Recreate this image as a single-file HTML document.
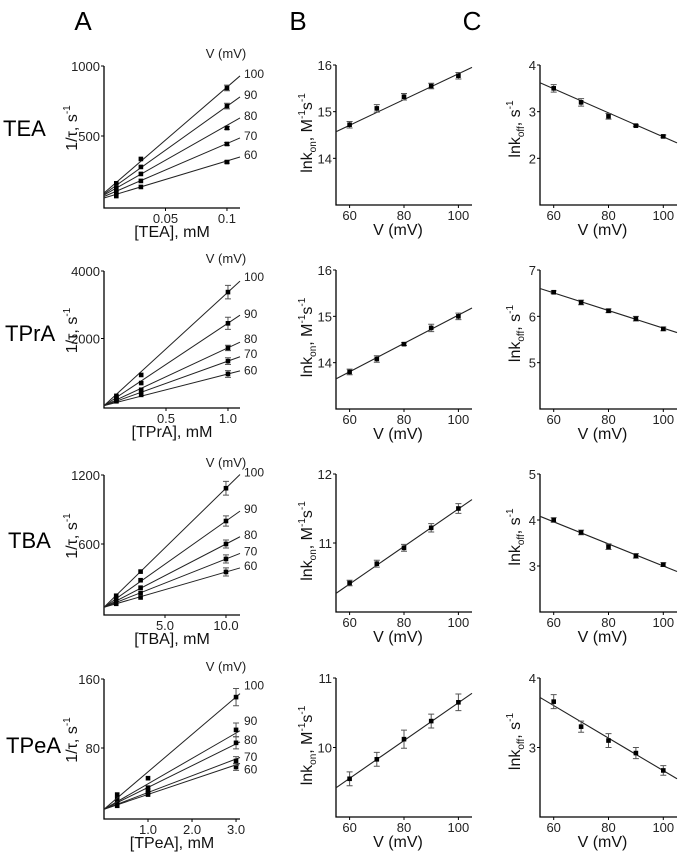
<!DOCTYPE html>
<html><head><meta charset="utf-8">
<style>
html,body{margin:0;padding:0;background:#fff;}
svg{display:block;font-family:"Liberation Sans",sans-serif;}
</style></head>
<body>
<svg id="fig" width="682" height="853" viewBox="0 0 682 853">
<text x="83" y="30" font-size="26" text-anchor="middle">A</text>
<text x="298" y="30" font-size="26" text-anchor="middle">B</text>
<text x="472" y="30" font-size="26" text-anchor="middle">C</text>
<text x="3" y="136" font-size="22">TEA</text>
<text x="5" y="341" font-size="22">TPrA</text>
<text x="8" y="548" font-size="22">TBA</text>
<text x="6" y="753" font-size="22">TPeA</text>
</svg>
<script>
// ---------- data ----------
const voltages = [60, 70, 80, 90, 100];
const fitV = [55, 105];

// Panel A data (rates per voltage 60..100 at each concentration)
const teaConc = [0.01, 0.03, 0.1];
const teaRates = [[71,136,314],[93,179,443],[107,229,557],[129,279,714],[162,336,843]];
const teaErr = [8,10,10,20,20];
const teaFitStart = [57,68,78,85,93];
const teaFitEnd = [350,486,629,779,929];
const teaLabelAt = [350,486,629,779,929];

const tpraConc = [0.1, 0.3, 1.0];
const tpraRates = [[140,330,950],[170,420,1330],[200,480,1720],[250,680,2450],[300,920,3375]];
const tpraErr = [100,100,80,180,200];
const tpraFitStart = [10,10,10,10,10];
const tpraFitEnd = [1040,1460,1890,2690,3700];
const tpraLabelAt = [1000,1480,1930,2670,3760];

const tbaConc = [1, 3, 10];
const tbaRates = [[80,135,357],[90,175,470],[105,220,600],[125,285,800],[150,360,1085]];
const tbaErr = [35,35,35,45,60];
const tbaFitStart = [50,50,50,50,50];
const tbaFitEnd = [392,518,663,886,1204];
const tbaLabelAt = [392,518,663,886,1204];

const tpeaConc = [0.3, 1, 3];
const tpeaRates = [[13,26,58],[15,28,65],[18,31,86],[21,34,101],[26,45,139]];
const tpeaErr = [4,5,7,8,10];
const tpeaFitStart = [9,9,9,9,9];
const tpeaFitEnd = [62,69,87,100,143];
const tpeaLabelAt = [53,67,87,109,150];

// Panel B (ln kon) and C (ln koff)
const teaKon = [14.72,15.07,15.32,15.55,15.77];
const teaKonErr = [0.07,0.08,0.07,0.06,0.07];
const teaKonFit = [14.57,15.95];
const teaKoff = [3.5,3.2,2.9,2.7,2.47];
const teaKoffErr = [0.08,0.08,0.06,0.02,0.03];
const teaKoffFit = [3.62,2.33];

const tpraKon = [13.8,14.08,14.4,14.75,15.0];
const tpraKonErr = [0.06,0.07,0.03,0.08,0.07];
const tpraKonFit = [13.65,15.18];
const tpraKoff = [6.52,6.3,6.12,5.95,5.73];
const tpraKoffErr = [0.03,0.05,0.04,0.05,0.04];
const tpraKoffFit = [6.6,5.65];

const tbaKon = [10.42,10.7,10.93,11.22,11.5];
const tbaKonErr = [0.04,0.05,0.05,0.06,0.07];
const tbaKonFit = [10.27,11.63];
const tbaKoff = [4.0,3.73,3.42,3.22,3.03];
const tbaKoffErr = [0.05,0.05,0.06,0.05,0.04];
const tbaKoffFit = [4.08,2.88];

const tpeaKon = [9.55,9.83,10.12,10.38,10.65];
const tpeaKonErr = [0.1,0.1,0.13,0.1,0.12];
const tpeaKonFit = [9.42,10.78];
const tpeaKoff = [3.66,3.3,3.1,2.92,2.67];
const tpeaKoffErr = [0.1,0.08,0.1,0.08,0.07];
const tpeaKoffFit = [3.72,2.55];

// tick labels
const teaXTicks = ["0.05","0.1"];
const tpraXTicks = ["0.5","1.0"];
const tbaXTicks = ["5.0","10.0"];
const tpeaXTicks = ["1.0","2.0","3.0"];
const teaYTicks = [500,1000];
const tpraYTicks = [2000,4000];
const tbaYTicks = [600,1200];
const tpeaYTicks = [80,160];
const vTicks = [60,80,100];

// ---------- drawing ----------
const NS = "http://www.w3.org/2000/svg";
const svg = document.getElementById("fig");
function mk(tag, attrs, parent){
  const e = document.createElementNS(NS, tag);
  for (const k in attrs) e.setAttribute(k, attrs[k]);
  (parent||svg).appendChild(e);
  return e;
}
function scale(d0,d1,r0,r1){ return v => r0 + (v-d0)/(d1-d0)*(r1-r0); }

function axes(g, x0, x1, y0, y1, sx, sy, xt, yt){
  const ax = mk("path",{d:`M${x0},${y0} V${y1} H${x1}`,fill:"none",stroke:"#000","stroke-width":1.3},g);
  
  
  xt.forEach(t=>{
    const v = parseFloat(t);
    const x = sx(v);
    const tk = mk("line",{x1:x,x2:x,y1:y1,y2:y1+3,stroke:"#000","stroke-width":1},g);
    
    
    const tl = mk("text",{x:x,y:y1+15,"font-size":13,"text-anchor":"middle",fill:"#222"},g);
    tl.textContent = t;
    
    
  });
  yt.forEach(v=>{
    const y = sy(v);
    const tk = mk("line",{x1:x0-3,x2:x0,y1:y,y2:y,stroke:"#000","stroke-width":1},g);
    
    
    const tl = mk("text",{x:x0-4,y:y+5,"font-size":13,"text-anchor":"end",fill:"#222"},g);
    tl.textContent = String(v);
    
    
  });
}
function point(g, x, y, e){
  if (e>0){
    const eb = mk("path",{d:`M${x},${y-e} V${y+e} M${x-3},${y-e} H${x+3} M${x-3},${y+e} H${x+3}`,stroke:"#555","stroke-width":1,fill:"none"},g);
    
    
  }
  const p = mk("rect",{x:x-2.3,y:y-2.3,width:4.6,height:4.6,fill:"#000"},g);
  
  
}
function ytitle(g, cx, cy, parts){
  const t = mk("text",{transform:`translate(${cx},${cy}) rotate(-90)`,"font-size":16,"text-anchor":"middle",fill:"#111"},g);
  
  
  parts.forEach(p=>{
    const s = mk("tspan",{},t);
    s.textContent = p[0];
    if (p[1]==="sub"){ s.setAttribute("font-size",10); s.setAttribute("dy",4); }
    else if (p[1]==="sup"){ s.setAttribute("font-size",10); s.setAttribute("dy",-7); }
    else if (p[1]==="back"){ s.setAttribute("dy",p[2]); }
  });
}

function panelA(name, y0, y1, xmax, ymax, conc, rates, err, fs, fe, labAt, xt, yt, xlabel){
  const g = mk("g",{});
  
  
  const x0=104, x1=240;
  const sx = scale(0,xmax,x0,x1), sy = scale(0,ymax,y1,y0);
  axes(g,x0,x1,y0,y1+2,sx,sy,xt,yt);
  rates.forEach((row,i)=>{
    const ln = mk("line",{x1:sx(0),y1:sy(fs[i]),x2:sx(xmax),y2:sy(fe[i]),stroke:"#222","stroke-width":1},g);
    
    
    row.forEach((v,j)=>{
      const eh = j===row.length-1 ? Math.abs(sy(0)-sy(err[i])) : 0;
      point(g, sx(conc[j]), sy(v), eh);
    });
    const lb = mk("text",{x:x1+4,y:sy(labAt[i])+2,"font-size":12,fill:"#222"},g);
    lb.textContent = String(voltages[i]);
    
    
  });
  const vt = mk("text",{x:226,y:y0-8,"font-size":13,"text-anchor":"middle",fill:"#222"},g);
  vt.textContent = "V (mV)";
  
  
  const xl = mk("text",{x:172,y:y1+31,"font-size":16,"text-anchor":"middle",fill:"#111"},g);
  xl.textContent = xlabel;
  
  
  ytitle(g, 77, (y0+y1)/2-8, [["1/τ, s"],["-1","sup"]]);
}

function panelV(name, col, y0, y1, yd, yt, vals, err, fit){
  const g = mk("g",{});
  
  
  const x0 = col==="kon" ? 336 : 540, x1 = col==="kon" ? 472 : 677;
  const sx = scale(fitV[0],fitV[1],x0,x1), sy = scale(yd[0],yd[1],y1,y0);
  axes(g,x0,x1,y0,y1,sx,sy,vTicks.map(String),yt);
  const ln = mk("line",{x1:sx(fitV[0]),y1:sy(fit[0]),x2:sx(fitV[1]),y2:sy(fit[1]),stroke:"#222","stroke-width":1.1},g);
  
  
  vals.forEach((v,i)=>{
    point(g, sx(voltages[i]), sy(v), Math.abs(sy(0)-sy(err[i])));
  });
  const xl = mk("text",{x:(x0+x1)/2-6,y:y1+30,"font-size":16,"text-anchor":"middle",fill:"#111"},g);
  xl.textContent = "V (mV)";
  
  
  if (col==="kon") ytitle(g, 312, (y0+y1)/2-2, [["lnk"],["on","sub"],[", M","back",-4],["-1","sup"],["s","back",7],["-1","sup"]]);
  else ytitle(g, 520, (y0+y1)/2-6, [["lnk"],["off","sub"],[", s","back",-4],["-1","sup"]]);
}

panelA("tea",66,206,0.1106,1000,teaConc,teaRates,teaErr,teaFitStart,teaFitEnd,teaLabelAt,teaXTicks,teaYTicks,"[TEA], mM");
panelA("tpra",271,406,1.097,4000,tpraConc,tpraRates,tpraErr,tpraFitStart,tpraFitEnd,tpraLabelAt,tpraXTicks,tpraYTicks,"[TPrA], mM");
panelA("tba",475,613,11.15,1200,tbaConc,tbaRates,tbaErr,tbaFitStart,tbaFitEnd,tbaLabelAt,tbaXTicks,tbaYTicks,"[TBA], mM");
panelA("tpea",679,817,3.09,160,tpeaConc,tpeaRates,tpeaErr,tpeaFitStart,tpeaFitEnd,tpeaLabelAt,tpeaXTicks,tpeaYTicks,"[TPeA], mM");

panelV("tea","kon",65,205,[13,16],[14,15,16],teaKon,teaKonErr,teaKonFit);
panelV("tea","koff",65,205,[1,4],[2,3,4],teaKoff,teaKoffErr,teaKoffFit);
panelV("tpra","kon",270,409,[13,16],[14,15,16],tpraKon,tpraKonErr,tpraKonFit);
panelV("tpra","koff",270,409,[4,7],[5,6,7],tpraKoff,tpraKoffErr,tpraKoffFit);
panelV("tba","kon",474,612,[10,12],[11,12],tbaKon,tbaKonErr,tbaKonFit);
panelV("tba","koff",474,612,[2,5],[3,4,5],tbaKoff,tbaKoffErr,tbaKoffFit);
panelV("tpea","kon",678,817,[9,11],[10,11],tpeaKon,tpeaKonErr,tpeaKonFit);
panelV("tpea","koff",678,817,[2,4],[3,4],tpeaKoff,tpeaKoffErr,tpeaKoffFit);
</script>
</body></html>
